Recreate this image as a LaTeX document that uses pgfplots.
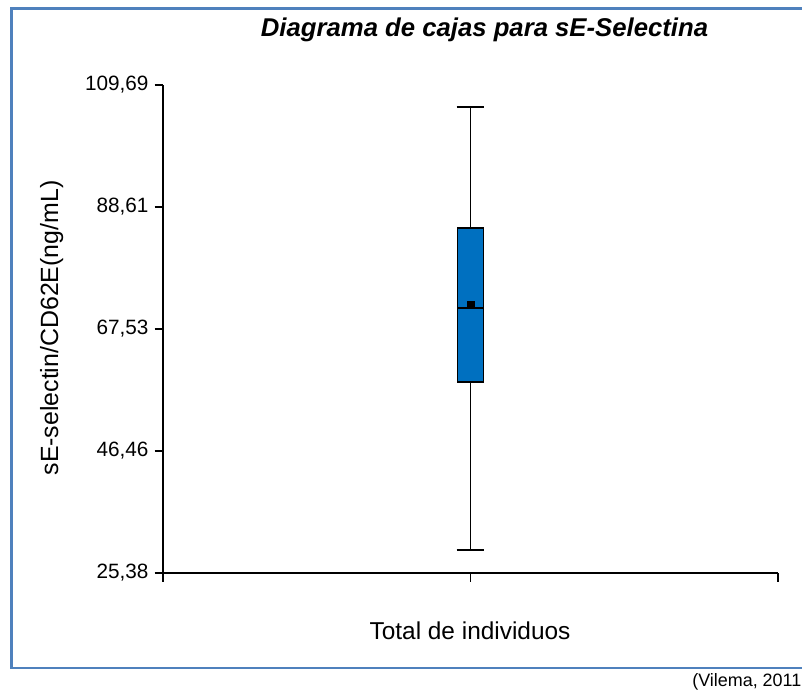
\documentclass[border=0pt]{standalone}
\usepackage{pgfplots}
\pgfplotsset{compat=1.18}
\usepackage{fontspec}
\setmainfont{Liberation Sans}
\definecolor{boxblue}{RGB}{0,112,192}
\definecolor{frameblue}{RGB}{79,129,189}
\begin{document}
\begin{tikzpicture}
\useasboundingbox (0bp,0bp) rectangle (802bp,694bp);
\draw[frameblue, line width=2.6bp] (11.3bp,26bp) rectangle (820bp,685.7bp);
\begin{axis}[
  at={(163bp,121bp)}, anchor=south west,
  scale only axis, width=615bp, height=488bp,
  xmin=0, xmax=2, ymin=25.38, ymax=109.69,
  clip=false,
  axis x line*=bottom, axis y line*=left,
  axis line style={-, black, line width=1.5bp},
  tick style={black, line width=1.5bp},
  tick align=outside, major tick length=8.5bp,
  xtick={0,1,2}, xticklabels={},
  ytick={25.38,46.46,67.53,88.61,109.69},
  yticklabels={25{,}38,46{,}46,67{,}53,88{,}61,109{,}69},
  /pgf/number format/assume math mode=true,
  ticklabel style={font=\fontsize{20.8}{24}\selectfont},
  yticklabel style={xshift=-2.5bp},
  title={Diagrama de cajas para sE-Selectina},
  title style={at={(axis description cs:0.5228,1.0881)}, anchor=base, font=\fontsize{25.8}{30}\selectfont\bfseries\itshape},
  xlabel={Total de individuos},
  xlabel style={at={(axis description cs:0.4992,-0.1359)}, anchor=base, font=\fontsize{24.5}{28}\selectfont},
  ylabel={sE-selectin/CD62E(ng/mL)},
  ylabel style={at={(axis description cs:-0.1707,0.502)}, anchor=base, font=\fontsize{25}{28}\selectfont},
]
% whiskers (lower whisker 29.29, upper whisker 105.84)
\addplot[black, line width=1.8bp] coordinates {(1,29.29) (1,58.36)};
\addplot[black, line width=1.8bp] coordinates {(1,84.95) (1,105.84)};
\addplot[black, line width=1.8bp] coordinates {(0.955,29.29) (1.045,29.29)};
\addplot[black, line width=1.8bp] coordinates {(0.955,105.84) (1.045,105.84)};
% box: Q1 58.36, Q3 84.95
\addplot[draw=black, fill=boxblue, line width=1.8bp] coordinates {(0.9575,58.36) (1.0425,58.36) (1.0425,84.95) (0.9575,84.95)} -- cycle;
% median 71.14
\addplot[black, line width=1.8bp] coordinates {(0.9575,71.14) (1.0425,71.14)};
% mean 71.79
\addplot[only marks, mark=square*, mark size=3.5bp, black] coordinates {(1,71.79)};
\end{axis}
\node[anchor=base east, font=\fontsize{18}{22}\selectfont, inner sep=0pt] at (801.5bp,8bp) {(Vilema, 2011};
\end{tikzpicture}
\end{document}
